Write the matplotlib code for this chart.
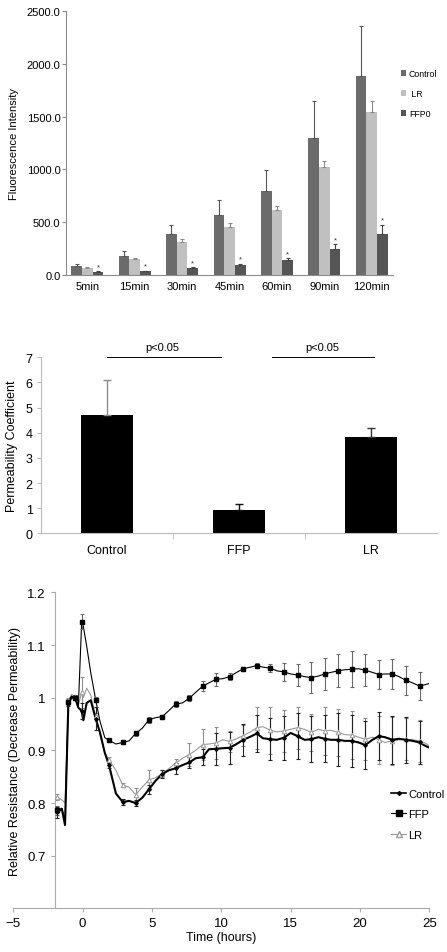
import matplotlib
matplotlib.use("Agg")
import matplotlib.pyplot as plt
import numpy as np

plt.rcParams["font.family"] = ["Liberation Sans", "DejaVu Sans"]

# --- panel A: fluorescence intensity ---
times = ["5min", "15min", "30min", "45min", "60min", "90min", "120min"]
ctrl = [82, 177, 386, 570, 791, 1294, 1882]
ctrl_err = [19, 48, 92, 136, 206, 357, 480]
lr = [70, 149, 316, 459, 614, 1019, 1541]
lr_err = [3, 12, 29, 38, 35, 63, 104]
ffp0 = [28, 38, 66, 95, 139, 247, 392]
ffp0_err = [7, 3, 7, 13, 22, 47, 86]

# --- panel B: permeability coefficient ---
groups = ["Control", "FFP", "LR"]
perm = [4.72, 0.94, 3.82]
perm_err = [1.37, 0.21, 0.35]

# --- panel C: relative resistance over time ---
t = [-1.83, -1.5, -1.27, -1.03, -0.8, -0.55, -0.31, -0.07, 0.05, 0.29, 0.58, 0.94,
     1.25, 1.6, 1.9, 2.4, 2.89, 3.35, 3.82, 4.3, 4.78, 5.25, 5.74, 6.2, 6.71, 7.2,
     7.69, 8.15, 8.66, 9.1, 9.62, 10.1, 10.6, 11.1, 11.58, 12.1, 12.56, 13.0, 13.54,
     14.0, 14.52, 15.0, 15.5, 16.0, 16.47, 17.0, 17.45, 17.9, 18.43, 18.9, 19.4,
     19.9, 20.38, 20.9, 21.36, 21.8, 22.34, 22.8, 23.32, 23.8, 24.3, 24.6, 25.0]
res_ctrl = [0.782, 0.789, 0.758, 0.99, 1.0, 1.0, 0.981, 0.975, 0.957, 0.99, 0.995, 0.96,
            0.934, 0.895, 0.872, 0.818, 0.802, 0.804, 0.80, 0.81, 0.826, 0.842, 0.855,
            0.862, 0.866, 0.872, 0.877, 0.885, 0.887, 0.902, 0.903, 0.904, 0.905, 0.912,
            0.92, 0.926, 0.932, 0.923, 0.921, 0.92, 0.924, 0.933, 0.927, 0.92, 0.921,
            0.925, 0.922, 0.92, 0.92, 0.918, 0.918, 0.915, 0.91, 0.92, 0.927, 0.925,
            0.92, 0.922, 0.92, 0.918, 0.915, 0.91, 0.905]
res_ffp = [0.786, 0.79, 0.765, 0.992, 1.003, 1.0, 0.984, 1.144, 1.135, 1.098, 1.048, 0.996,
           0.955, 0.924, 0.919, 0.912, 0.915, 0.918, 0.932, 0.942, 0.958, 0.962, 0.964,
           0.975, 0.988, 0.99, 0.999, 1.01, 1.022, 1.028, 1.035, 1.036, 1.04, 1.048,
           1.055, 1.058, 1.061, 1.058, 1.056, 1.051, 1.049, 1.045, 1.043, 1.04, 1.038,
           1.041, 1.045, 1.048, 1.051, 1.053, 1.054, 1.055, 1.052, 1.048, 1.044, 1.045,
           1.045, 1.04, 1.033, 1.028, 1.022, 1.024, 1.027]
res_lr = [0.811, 0.806, 0.80, 0.995, 1.006, 1.002, 0.985, 1.01, 1.0, 1.018, 1.005, 0.965,
          0.93, 0.895, 0.882, 0.862, 0.834, 0.83, 0.816, 0.83, 0.844, 0.848, 0.856,
          0.865, 0.876, 0.885, 0.892, 0.9, 0.911, 0.912, 0.914, 0.92, 0.917, 0.922,
          0.928, 0.935, 0.943, 0.945, 0.938, 0.935, 0.937, 0.94, 0.943, 0.94, 0.934,
          0.94, 0.937, 0.938, 0.934, 0.93, 0.929, 0.925, 0.921, 0.925, 0.92, 0.915,
          0.918, 0.92, 0.921, 0.92, 0.918, 0.915, 0.909]
marks = [0, 3, 5, 7, 11, 14, 16, 18, 20, 22, 24, 26, 28, 30, 32, 34, 36, 38, 40, 42,
         44, 46, 48, 50, 52, 54, 56, 58, 60]
err_ctrl = [0.01, 0.005, 0.005, 0.015, 0.022, 0.005, 0.006, 0.006, 0.008, 0.007, 0.01,
            0.01, 0.015, 0.03, 0.03, 0.03, 0.035, 0.04, 0.042, 0.043, 0.044, 0.045,
            0.05, 0.05, 0.045, 0.045, 0.045, 0.044, 0.04]
err_ffp = [0.008, 0.005, 0.004, 0.014, 0.005, 0.003, 0.003, 0.005, 0.006, 0.004, 0.005,
           0.006, 0.01, 0.012, 0.006, 0.004, 0.004, 0.008, 0.017, 0.021, 0.029, 0.03,
           0.031, 0.034, 0.03, 0.027, 0.028, 0.028, 0.027]
err_lr = [0.006, 0.004, 0.004, 0.03, 0.005, 0.006, 0.004, 0.012, 0.019, 0.006, 0.008,
          0.021, 0.03, 0.03, 0.02, 0.02, 0.04, 0.045, 0.04, 0.04, 0.035, 0.045, 0.045,
          0.045, 0.04, 0.045, 0.045, 0.04, 0.04]

axis_grey = "#8c8c8c"

fig = plt.figure(figsize=(4.47, 9.53), dpi=100)

# ---------------- panel A ----------------
ax1 = fig.add_axes([0.1477, 0.7104, 0.7315, 0.277])
x = np.arange(len(times))
w = 0.225
cols = ["#6b6b6b", "#c0c0c0", "#555555"]
ecols = ["#555555", "#8a8a8a", "#444444"]
for i, (vals, errs, lab) in enumerate([(ctrl, ctrl_err, "Control"), (lr, lr_err, " LR"),
                                        (ffp0, ffp0_err, "FFP0")]):
    ax1.bar(x + (i - 1) * w, vals, w, color=cols[i], label=lab, zorder=2)
    ax1.errorbar(x + (i - 1) * w, vals, yerr=[np.zeros(len(vals)), errs], fmt="none",
                 ecolor=ecols[i], elinewidth=0.8, capsize=1.5, capthick=0.8, zorder=3)
for xi, v, e in zip(x, ffp0, ffp0_err):
    ax1.text(xi + w, v + e + 8, "*", ha="center", va="bottom", fontsize=5.5, color="#333333")
ax1.set_xlim(-0.45, 6.45)
ax1.set_ylim(0, 2500)
ax1.set_yticks([0, 500, 1000, 1500, 2000, 2500])
ax1.set_yticklabels(["%.1f" % v for v in [0, 500, 1000, 1500, 2000, 2500]])
ax1.set_xticks(x)
ax1.set_xticklabels(times)
ax1.tick_params(axis="x", length=0, labelsize=8, pad=4)
ax1.tick_params(axis="y", length=3, color=axis_grey, labelsize=8, pad=1)
for s in ["top", "right"]:
    ax1.spines[s].set_visible(False)
for s in ["left", "bottom"]:
    ax1.spines[s].set_color(axis_grey)
    ax1.spines[s].set_linewidth(0.8)
ax1.set_ylabel("Fluorescence Intensity", fontsize=8)
ax1.yaxis.set_label_coords(-0.145, 0.5)
ax1.legend(loc="upper left", bbox_to_anchor=(1.0, 0.81), frameon=False, fontsize=6.3,
           handlelength=0.6, handleheight=0.6, handletextpad=0.3, labelspacing=1.25)

# ---------------- panel B ----------------
ax2 = fig.add_axes([0.0917, 0.4393, 0.8859, 0.1847])
xb = np.arange(len(groups))
ax2.bar(xb, perm, 0.39, color="black", zorder=2)
for xi, v, e, c in zip(xb, perm, perm_err, ["#8a8a8a", "#111111", "#333333"]):
    ax2.errorbar([xi], [v], yerr=[[0], [e]], fmt="none", ecolor=c, elinewidth=1.0,
                 capsize=3, capthick=1.0, zorder=3)
ax2.plot([0, 0.86], [7, 7], color="black", lw=0.7, clip_on=False)
ax2.plot([1.25, 2.02], [7, 7], color="black", lw=0.7, clip_on=False)
ax2.text(0.42, 7.42, "p<0.05", ha="center", va="center", fontsize=8)
ax2.text(1.63, 7.42, "p<0.05", ha="center", va="center", fontsize=8)
ax2.set_xlim(-0.5, 2.5)
ax2.set_ylim(0, 7)
ax2.set_yticks(range(8))
ax2.set_xticks(xb)
ax2.set_xticklabels(groups)
ax2.set_xticks([0.5, 1.5], minor=True)
ax2.tick_params(axis="x", which="major", length=0, labelsize=9, pad=8)
ax2.tick_params(axis="x", which="minor", length=4, color="#bbbbbb")
ax2.tick_params(axis="y", length=3, color="#bbbbbb", labelsize=9, pad=3)
for s in ["top", "right"]:
    ax2.spines[s].set_visible(False)
for s in ["left", "bottom"]:
    ax2.spines[s].set_color("#bbbbbb")
    ax2.spines[s].set_linewidth(0.8)
ax2.set_ylabel("Permeability Coefficient", fontsize=9)
ax2.yaxis.set_label_coords(-0.058, 0.5)

# ---------------- panel C ----------------
ax3 = fig.add_axes([0.0298, 0.0458, 0.9306, 0.3316])
t_arr = np.array(t)
mt = t_arr[marks]
ax3.plot(t, res_lr, color="#9a9a9a", lw=0.8, zorder=2)
ax3.plot(t, res_ffp, color="black", lw=0.8, zorder=3)
ax3.plot(t, res_ctrl, color="black", lw=1.5, zorder=4)
ax3.errorbar(mt, np.array(res_lr)[marks], yerr=err_lr, fmt="none", ecolor="#8f8f8f",
             elinewidth=0.8, capsize=1.5, capthick=0.8, zorder=2)
ax3.errorbar(mt, np.array(res_ffp)[marks], yerr=err_ffp, fmt="none", ecolor="#6a6a6a",
             elinewidth=0.8, capsize=1.5, capthick=0.8, zorder=3)
ax3.errorbar(mt, np.array(res_ctrl)[marks], yerr=err_ctrl, fmt="none", ecolor="#222222",
             elinewidth=0.8, capsize=1.5, capthick=0.8, zorder=4)
ax3.plot(mt, np.array(res_lr)[marks], ls="none", marker="^", ms=3.3, mfc="white",
         mec="#9a9a9a", mew=0.7, zorder=5)
ax3.plot(mt, np.array(res_ffp)[marks], ls="none", marker="s", ms=3.0, color="black", zorder=6)
ax3.plot(mt, np.array(res_ctrl)[marks], ls="none", marker="D", ms=1.8, color="black", zorder=7)

h_ctrl, = ax3.plot([], [], color="black", lw=1.2, marker="D", ms=2)
h_ffp, = ax3.plot([], [], color="black", lw=0.8, marker="s", ms=4)
h_lr, = ax3.plot([], [], color="#9a9a9a", lw=0.8, marker="^", ms=4.5, mfc="white",
                 mec="#9a9a9a")
ax3.legend([h_ctrl, h_ffp, h_lr], ["Control", "FFP", "LR"], loc="upper left",
           bbox_to_anchor=(0.885, 0.41), frameon=False, fontsize=8, handlelength=1.3,
           handletextpad=0.2, labelspacing=0.95)

ax3.set_xlim(-5, 25)
ax3.set_ylim(0.6, 1.2)
ax3.set_xticks([-5, 0, 5, 10, 15, 20, 25])
ax3.set_yticks([0.7, 0.8, 0.9, 1.0, 1.1, 1.2])
ax3.set_yticklabels(["0.7", "0.8", "0.9", "1", "1.1", "1.2"])
ax3.spines["left"].set_position(("data", -2))
for s in ["top", "right"]:
    ax3.spines[s].set_visible(False)
for s in ["left", "bottom"]:
    ax3.spines[s].set_color("#aaaaaa")
    ax3.spines[s].set_linewidth(0.8)
ax3.tick_params(axis="both", length=3, color="#aaaaaa", labelsize=9.5)
ax3.set_xlabel("Time (hours)", fontsize=9, labelpad=1)
ax3.set_ylabel("Relative Resistance (Decrease Permeability)", fontsize=9)
ax3.yaxis.set_label_coords(0.018, 0.5)

fig.savefig("out.png", dpi=100)
